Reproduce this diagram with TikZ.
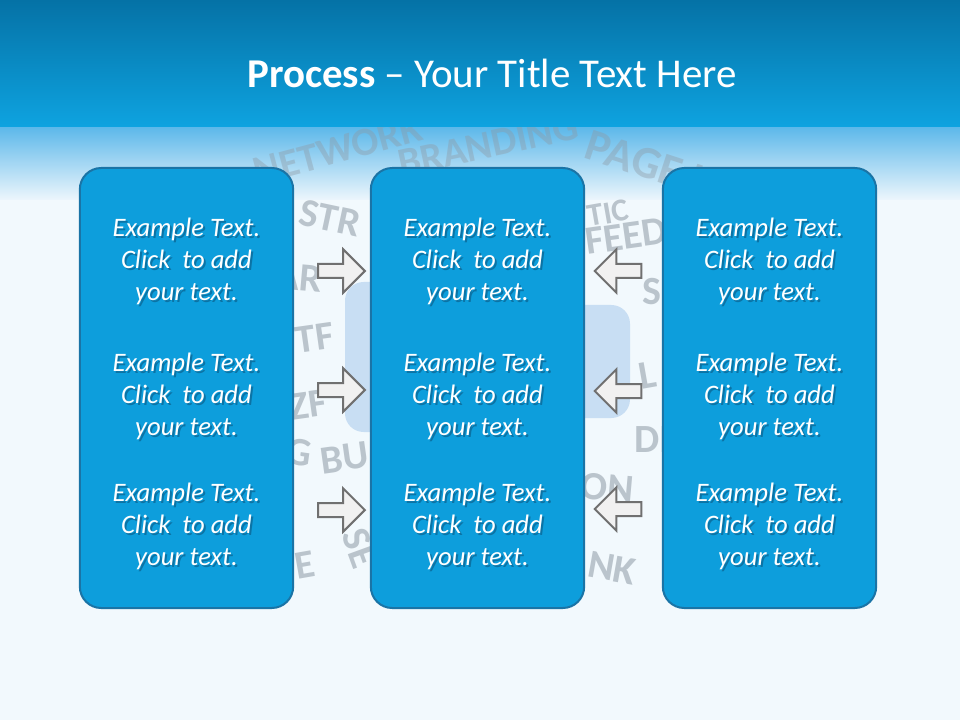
\documentclass[tikz,border=0pt]{standalone}
\usepackage{fontspec}
\setmainfont{Carlito}
\usetikzlibrary{shapes.arrows,positioning}
\definecolor{hdtop}{HTML}{0572A6}
\definecolor{hdbot}{HTML}{0EA3E0}
\definecolor{fadetop}{HTML}{5CB8EA}
\definecolor{fadebot}{HTML}{EDF6FC}
\definecolor{pagebg}{HTML}{F2F9FD}
\definecolor{boxfill}{HTML}{0D9EDC}
\definecolor{boxline}{HTML}{1A74A6}
\definecolor{shade}{HTML}{0A4A70}
\definecolor{arrowfill}{HTML}{F1F1F1}
\definecolor{arrowline}{HTML}{707070}
\definecolor{wordgray}{HTML}{8D99A4}
\definecolor{blob}{HTML}{C8DEF3}
\tikzset{
  box/.style={draw=boxline, line width=1.5pt, fill=boxfill,
    rounded corners=16pt, minimum width=160pt, minimum height=330pt},
  txt/.style={align=center, text=white, font=\fontsize{20}{24}\selectfont\itshape},
  txtshade/.style={txt, text=shade, opacity=0.5},
  step arrow/.style={single arrow, draw=arrowline, fill=arrowfill,
    line width=1.5pt, minimum height=35pt, inner sep=4.5pt,
    single arrow head extend=11pt},
  word/.style={text=wordgray, opacity=0.55, inner sep=0pt,
    font=\fontsize{30}{30}\selectfont\bfseries}
}
\newcommand{\sample}{Example Text.\\Click~ to add\\your text.}
\begin{document}
\begin{tikzpicture}[x=0.75pt, y=-0.75pt]
  \useasboundingbox (0,0) rectangle (960,720);
  % background
  \fill[pagebg] (0,0) rectangle (960,720);
  \fill[top color=fadetop, bottom color=fadebot] (0,127) rectangle (960,200);
  % word collage behind the boxes
  \fill[blob, rounded corners=14pt] (345,282) rectangle (430,432);
  \fill[blob, rounded corners=14pt] (540,305) rectangle (630,418);
  \node[word, opacity=0.4, rotate=15] (w1) at (338,150) {NETWORK};
  \node[word, opacity=0.4, rotate=12] (w2) at (488,145) {BRANDING};
  \node[word, opacity=0.4, rotate=-18, font=\fontsize{34}{34}\selectfont\bfseries]
    (w3) at (680,174) {PAGE LINK};
  \node[word, rotate=-12, anchor=west] (w4) at (300,212) {STR};
  \node[word, rotate=-5, anchor=east] (w5) at (322,280) {AR};
  \node[word, rotate=8] (w6) at (315,338) {TF};
  \node[word, rotate=8] (w7) at (308,405) {ZF};
  \node[word, rotate=-8] (w8) at (299,452) {G};
  \node[word, rotate=8] (w9) at (345,458) {BU};
  \node[word, rotate=-70] (w10) at (360,548) {SE};
  \node[word, rotate=10] (w11) at (305,565) {E};
  \node[word, rotate=10, font=\fontsize{24}{24}\selectfont\bfseries] (w12) at (608,213) {TIC};
  \node[word, rotate=8, anchor=west] (w13) at (585,242) {FEED};
  \node[word] (w14) at (652,292) {S};
  \node[word, rotate=10] (w15) at (648,375) {L};
  \node[word] (w16) at (652,440) {DI};
  \node[word, rotate=-5] (w17) at (607,488) {ON};
  \node[word, rotate=-10] (w18) at (612,568) {NK};
  % title bar
  \fill[top color=hdtop, bottom color=hdbot] (0,0) rectangle (960,127);
  \node[text=white, font=\fontsize{30.7}{36}\selectfont, anchor=base] (title) at (492,88)
    {\textbf{Process} -- Your Title Text Here};
  % boxes
  \node[box] (b1) at (186.5,388) {};
  \node[box] (b2) at (477.5,388) {};
  \node[box] (b3) at (769.5,388) {};
  % texts with their shadows
  \foreach \b in {1,2,3} {
    \node[txtshade] (s\b a) at ([shift={(1.5pt,93.75pt)}]b\b) {\sample};
    \node[txtshade] (s\b b) at ([shift={(1.5pt,-7.5pt)}]b\b) {\sample};
    \node[txtshade] (s\b c) at ([shift={(1.5pt,-105pt)}]b\b) {\sample};
    \node[txt] (t\b a) at ([yshift=95.25pt]b\b) {\sample};
    \node[txt] (t\b b) at ([yshift=-6pt]b\b) {\sample};
    \node[txt] (t\b c) at ([yshift=-103.5pt]b\b) {\sample};
  }
  % arrows
  \node[step arrow] (r1) at (338,271) {};
  \node[step arrow] (r2) at (338,390) {};
  \node[step arrow] (r3) at (338,510) {};
  \node[step arrow, shape border rotate=180] (l1) at (621.5,271) {};
  \node[step arrow, shape border rotate=180] (l2) at (621.5,391) {};
  \node[step arrow, shape border rotate=180] (l3) at (621.5,509) {};
\end{tikzpicture}
\end{document}
